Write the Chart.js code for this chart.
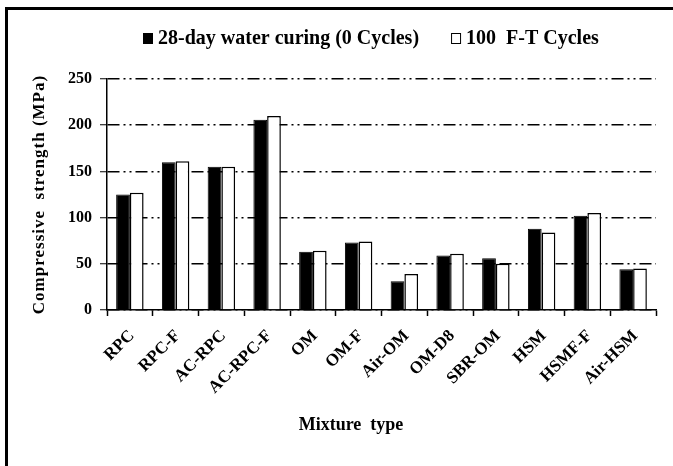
<!DOCTYPE html>
<html lang="en">
<head>
    <meta charset="UTF-8">
    <title>Compressive strength by mixture type</title>
    <script src="https://cdn.jsdelivr.net/npm/chart.js"></script>
    <style>
        html, body { margin: 0; padding: 0; background: #fff; overflow: hidden; }
        .chart-box { position: absolute; left: 0; top: 0; width: 673px; height: 466px; }
        /* frame of the original figure, only left and top edges are visible */
        .frame { position: absolute; left: 5px; top: 7px; width: 720px; height: 520px;
                 border-left: 3px solid #000; border-top: 3px solid #000; pointer-events: none; }
    </style>
</head>
<body>
    <div class="chart-box"><canvas id="strengthChart"></canvas></div>
    <div class="frame"></div>

    <script>
    // mixture types on the x axis
    const categories = ['RPC', 'RPC-F', 'AC-RPC', 'AC-RPC-F', 'OM', 'OM-F', 'Air-OM', 'OM-D8', 'SBR-OM', 'HSM', 'HSMF-F', 'Air-HSM'];
    // compressive strength (MPa)
    const waterCuring = [125, 160, 155, 206, 63, 73, 31, 59, 56, 88, 102, 44];
    const ftCycles = [127, 161, 155, 210, 64, 74, 39, 61, 50, 84, 105, 45];
    const seriesNames = ['28-day water curing (0 Cycles)', '100  F-T Cycles'];
    const yMin = 0, yMax = 250, yStep = 50;
    const xTitle = 'Mixture  type';
    const yTitle = 'Compressive  strength (MPa)';

    const serif = "'Liberation Serif', 'Times New Roman', serif";
    Chart.defaults.font.family = serif;
    Chart.defaults.font.weight = 'bold';
    Chart.defaults.font.size = 16;
    Chart.defaults.color = '#000';

    // legend and axis titles sit off-centre in the original, so draw them here
    const extraText = {
      id: 'extraText',
      afterDraw(chart) {
        const ctx = chart.ctx;
        const area = chart.chartArea;
        ctx.save();
        ctx.font = 'bold 20px ' + serif;
        ctx.textBaseline = 'middle';
        // legend
        let x = 143;
        const y = 38;
        chart.data.datasets.forEach(ds => {
          ctx.fillStyle = ds.backgroundColor;
          ctx.fillRect(x, y - 5, 10, 11);
          ctx.strokeStyle = '#000';
          ctx.lineWidth = 1;
          ctx.strokeRect(x + 0.5, y - 4.5, 9, 10);
          x += 15;
          ctx.fillStyle = '#000';
          ctx.fillText(ds.label, x, y + 1);
          x += ctx.measureText(ds.label).width + 32;
        });
        // x title
        ctx.font = 'bold 18px ' + serif;
        ctx.textAlign = 'center';
        ctx.fillText(xTitle, 351, 425);
        // y title
        ctx.font = 'bold 17px ' + serif;
        ctx.translate(40, (area.top + area.bottom) / 2);
        ctx.rotate(-Math.PI / 2);
        ctx.letterSpacing = '1px';
        ctx.fillText(yTitle, 0, 0);
        ctx.restore();
      }
    };

    new Chart(document.getElementById('strengthChart'), {
      type: 'bar',
      data: {
        labels: categories,
        datasets: [
          {
            label: seriesNames[0],
            data: waterCuring,
            backgroundColor: '#000',
            borderColor: '#000',
            borderWidth: 1
          },
          {
            label: seriesNames[1],
            data: ftCycles,
            backgroundColor: '#fff',
            borderColor: '#000',
            borderWidth: 1.5
          }
        ]
      },
      options: {
        responsive: true,
        maintainAspectRatio: false,
        animation: false,
        layout: { padding: { left: 0, top: 79, right: 17, bottom: 0 } },
        datasets: { bar: { categoryPercentage: 0.6, barPercentage: 1.0 } },
        plugins: {
          legend: { display: false },
          tooltip: { enabled: false }
        },
        scales: {
          x: {
            afterFit: s => { s.height = 156; },
            grid: { display: true, drawOnChartArea: false, drawTicks: true, tickLength: 6, tickColor: '#000', tickWidth: 1.5, offset: true },
            border: { display: true, color: '#000', width: 1.5 },
            ticks: { maxRotation: 45, minRotation: 45, padding: 10, labelOffset: 2, font: { size: 17, weight: 'bold' } }
          },
          y: {
            min: yMin,
            max: yMax,
            afterFit: s => { s.width = 107; },
            grid: { color: '#000', lineWidth: 1.5, tickLength: 7, tickColor: '#000', tickWidth: 1 },
            border: { display: true, color: '#000', width: 1.5, dash: [12, 4, 2, 4, 2, 4] },
            ticks: { stepSize: yStep, padding: 8, font: { size: 16, weight: 'bold' } }
          }
        }
      },
      plugins: [extraText]
    });
    </script>
</body>
</html>
